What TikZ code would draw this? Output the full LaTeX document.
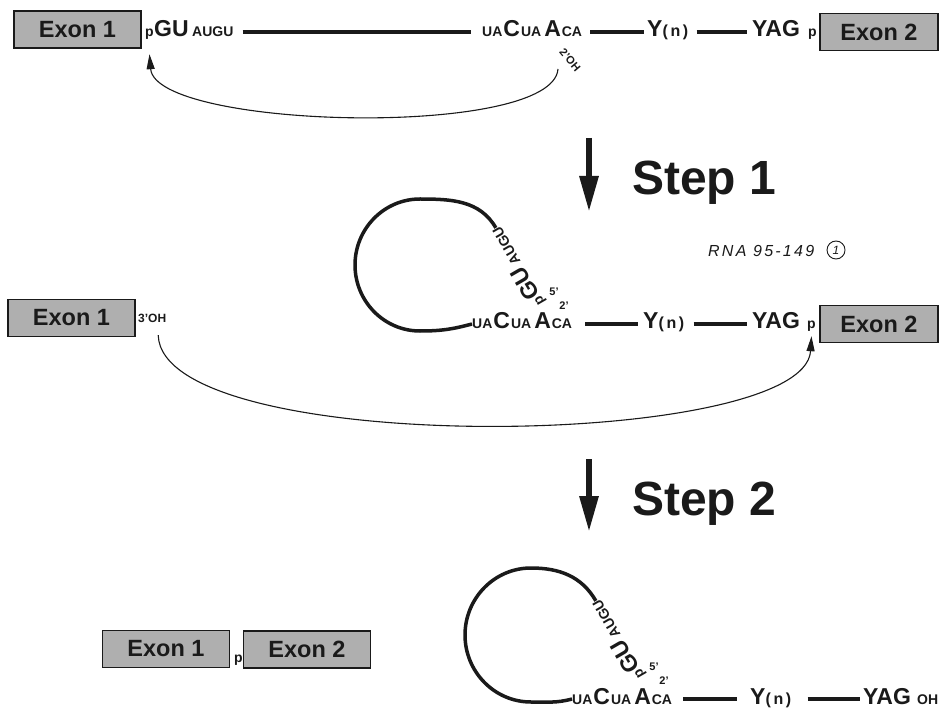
\documentclass[tikz,border=0pt]{standalone}
\usepackage{fontspec}
\setmainfont{Liberation Sans}
\usetikzlibrary{arrows.meta}
\definecolor{exonfill}{HTML}{AFAFAF}
\definecolor{ink}{HTML}{1A1A1A}
\newcommand\SeqS{\fontsize{14}{14}\selectfont}
\newcommand\SeqB{\fontsize{23}{23}\selectfont}
\newcommand\SeqN{\fontsize{16}{16}\selectfont}
\begin{document}
\begin{tikzpicture}[x=1pt,y=1pt,
  seq/.style={inner sep=0pt, anchor=base west, text height=10pt, text depth=0pt, font=\bfseries, text=ink},
  exon/.style={draw=ink, line width=1.3pt, fill=exonfill, inner sep=0pt, minimum width=127pt, minimum height=37pt, font=\bfseries\fontsize{23.5}{23.5}\selectfont, text=ink},
  backbone/.style={draw=ink, line width=4pt},
  loopline/.style={draw=ink, line width=3.5pt},
  attack/.style={draw=ink, line width=1.1pt, -{Triangle[length=15pt,width=8pt]}},
  steparrow/.style={draw=ink, line width=6pt, -{Triangle[length=36pt,width=18pt]}},
  steplabel/.style={inner sep=0pt, anchor=base west, font=\bfseries\fontsize{48}{48}\selectfont, text=ink},
  tag/.style={inner sep=0pt, font=\bfseries\fontsize{11}{11}\selectfont, text=ink},
]
\useasboundingbox[fill=white] (0,0) rectangle (939,-708);

% ---------------- Row 1: pre-mRNA ----------------
\node[exon] (e1a) at (77.5,-29.5) {Exon 1};
\node[seq] (p1) at (145,-37) {\SeqS p};
\node[seq] (gu1) at (154,-37) {\SeqB GU};
\node[seq] (augu1) at (192,-37) {\SeqS AUGU};
\node[seq] (br1) at (482,-37) {\SeqS UA\kern1pt\SeqB C\kern1pt\SeqS UA\kern3pt\SeqB A\kern1pt\SeqS CA};
\node[seq] (yn1) at (647,-37) {\SeqB Y\SeqN(\,n\,)};
\node[seq] (yag1) at (752,-37) {\SeqB YAG};
\node[seq] (pp1) at (808,-37) {\SeqS p};
\node[exon, minimum width=118pt] (e2a) at (879,-32) {Exon 2};
\node[tag, rotate=-50] (oh2) at (570,-60) {2'OH};

\draw[backbone, shorten <=9pt, shorten >=11pt] (augu1.east) -- (br1.west);
\draw[backbone, shorten <=8pt, shorten >=3pt] (br1.east) -- (yn1.west);
\draw[backbone, shorten <=8pt, shorten >=5pt] (yn1.east) -- (yag1.west);
\draw[attack] ([shift={(-12,-9)}]oh2.center) .. controls +(-5,-70) and +(6,-75) .. ([shift={(0,-17)}]p1.south);

% ---------------- Step 1 ----------------
\coordinate (s1a) at (589,-138);
\coordinate (s1b) at (589,-212);
\draw[steparrow] (s1a) -- (s1b);
\node[steplabel] (step1) at (632,-195) {Step 1};

% ---------------- Row 2: lariat intermediate ----------------
\node[inner sep=0pt, anchor=base west, text=ink] (hw) at (708,-257)
  {\itshape\fontsize{16}{16}\selectfont\addfontfeatures{LetterSpace=14}RNA 95-149};
\node[draw=ink, circle, line width=0.9pt, inner sep=1pt, minimum size=18pt, text=ink,
  font=\itshape\fontsize{12}{12}\selectfont] (hwc) at (836,-250) {1};

\node[exon] (e1b) at (71.5,-318) {Exon 1};
\node[seq] (oh3) at (138,-323) {\fontsize{12}{12}\selectfont 3'OH};
\node[seq] (br2) at (472,-329) {\SeqS UA\kern1pt\SeqB C\kern1pt\SeqS UA\kern3pt\SeqB A\kern1pt\SeqS CA};
\node[seq] (yn2) at (643,-329) {\SeqB Y\SeqN(\,n\,)};
\node[seq] (yag2) at (752,-329) {\SeqB YAG};
\node[seq] (pp2) at (807,-329) {\SeqS p};
\node[exon, minimum width=118pt] (e2b) at (879,-324) {Exon 2};
\node[seq, rotate=120] (gu2) at (545,-303) {\SeqS p\kern1pt\SeqB GU\kern4pt\SeqS AUGU};
\node[tag] (f5b) at (554,-292) {5'};
\node[tag] (f2b) at (564,-306) {2'};

\draw[backbone, shorten <=13pt, shorten >=5pt] (br2.east) -- (yn2.west);
\draw[backbone, shorten <=9pt, shorten >=5pt] (yn2.east) -- (yag2.west);
\draw[loopline] (gu2.east) to[out=120,in=0] (420,-199) to[out=180,in=90] (355,-265)
  to[out=270,in=180] (420,-331) to[out=0,in=195] (br2.west);
\draw[attack] ([shift={(6,-12)}]oh3.south) .. controls +(4,-123) and +(-7,-114) .. ([yshift=-7pt]pp2.south);

% ---------------- Step 2 ----------------
\coordinate (s2a) at (589,-459);
\coordinate (s2b) at (589,-532);
\draw[steparrow] (s2a) -- (s2b);
\node[steplabel] (step2) at (632,-515) {Step 2};

% ---------------- Row 3: products ----------------
\node[exon] (e1c) at (166,-649) {Exon 1};
\node[seq] (pj) at (234,-662) {\SeqS p};
\node[exon] (e2c) at (307,-649.5) {Exon 2};

\node[seq] (br3) at (572,-704) {\SeqS UA\kern1pt\SeqB C\kern1pt\SeqS UA\kern3pt\SeqB A\kern1pt\SeqS CA};
\node[seq] (yn3) at (750,-704) {\SeqB Y\SeqN(\,n\,)};
\node[seq] (yag3) at (863,-704) {\SeqB YAG};
\node[seq] (oh4) at (917,-704) {\SeqS OH};
\node[seq, rotate=120] (gu3) at (645,-676) {\SeqS p\kern1pt\SeqB GU\kern4pt\SeqS AUGU};
\node[tag] (f5c) at (654,-667) {5'};
\node[tag] (f2c) at (664,-681) {2'};

\draw[backbone, shorten <=11pt, shorten >=13pt] (br3.east) -- (yn3.west);
\draw[backbone, shorten <=16pt, shorten >=3pt] (yn3.east) -- (yag3.west);
\draw[loopline] (gu3.east) to[out=120,in=0] (531,-568) to[out=180,in=90] (465,-635)
  to[out=270,in=180] (531,-702) to[out=0,in=195] (br3.west);
\end{tikzpicture}
\end{document}
